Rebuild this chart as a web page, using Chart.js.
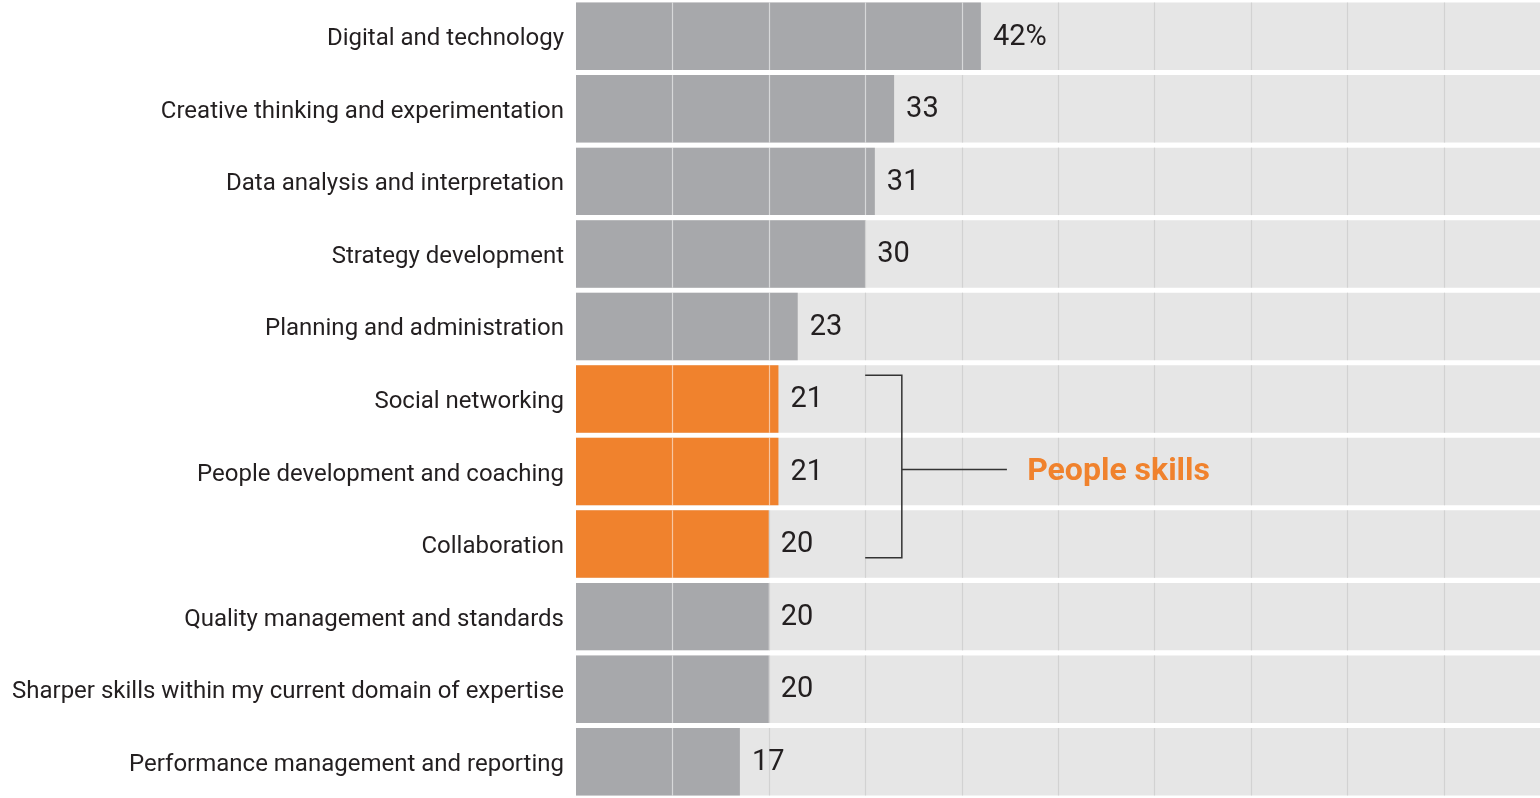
<!DOCTYPE html>
<html>
<head>
<meta charset="utf-8">
<script src="https://cdn.jsdelivr.net/npm/chart.js@4"></script>
<style>
  html,body{margin:0;padding:0;background:#fff;}
  #wrap{width:1540px;height:798px;position:relative;}
</style>
</head>
<body>
<div id="wrap"><canvas id="skills-chart"></canvas></div>
<script>
/* Skills wanted — horizontal bar chart */
const categories=['Digital and technology','Creative thinking and experimentation','Data analysis and interpretation','Strategy development','Planning and administration','Social networking','People development and coaching','Collaboration','Quality management and standards','Sharper skills within my current domain of expertise','Performance management and reporting'];
const values=[42,33,31,30,23,21,21,20,20,20,17];
const peopleSkills=['Social networking','People development and coaching','Collaboration'];
const fullScale=[100,100,100,100,100,100,100,100,100,100,100];
const gridTicks=[10,20,30,40,50,60,70,80,90];
const groupLabel='People skills';

(function(){
  const GREY='#a7a8ab',ORANGE='#f0822d',TRACK='#e6e6e6',INK='#231f20';

  const overlay={
    id:'overlay',
    afterDatasetsDraw(chart){
      const ctx=chart.ctx,x=chart.scales.x;
      const bars=chart.getDatasetMeta(0).data;
      ctx.save();
      // grid lines, clipped to each row
      bars.forEach((b,i)=>{
        const top=b.y-b.height/2,bot=b.y+b.height/2;
        gridTicks.forEach(g=>{
          const px=Math.round(x.getPixelForValue(g))+0.5;
          ctx.strokeStyle=g<values[i]?'rgba(255,255,255,0.55)':'#d2d2d2';
          ctx.lineWidth=1.2;
          ctx.beginPath();ctx.moveTo(px,top);ctx.lineTo(px,bot);ctx.stroke();
        });
      });
      // value labels
      ctx.fillStyle=INK;ctx.font='29px Roboto';ctx.textBaseline='middle';ctx.textAlign='left';
      bars.forEach((b,i)=>{
        ctx.fillText(i===0?values[i]+'%':String(values[i]),b.x+12,b.y+1);
      });
      // bracket for people skills
      const idx=peopleSkills.map(c=>categories.indexOf(c));
      const first=bars[idx[0]],last=bars[idx[idx.length-1]],mid=bars[idx[1]];
      const x0=x.getPixelForValue(30),x1=x.getPixelForValue(33.8),x2=x.getPixelForValue(44.7);
      const yT=first.y-first.height/2+10,yB=last.y+last.height/2-20,yM=mid.y-2;
      ctx.strokeStyle='#333';ctx.lineWidth=1.5;
      ctx.beginPath();
      ctx.moveTo(x0,yT);ctx.lineTo(x1,yT);ctx.lineTo(x1,yB);ctx.lineTo(x0,yB);
      ctx.moveTo(x1,yM);ctx.lineTo(x2,yM);
      ctx.stroke();
      ctx.fillStyle=ORANGE;ctx.font='bold 32px Roboto';
      ctx.fillText(groupLabel,x.getPixelForValue(46.8),yM+2);
      ctx.restore();
    }
  };

  function init(){
    const el=document.getElementById('skills-chart');
    new Chart(el,{type:'bar',
      data:{labels:categories,datasets:[
        {data:values,backgroundColor:categories.map(c=>peopleSkills.includes(c)?ORANGE:GREY),order:0,grouped:false,
          categoryPercentage:1,barPercentage:0.93,borderWidth:0},
        {data:fullScale,backgroundColor:TRACK,order:1,grouped:false,
          categoryPercentage:1,barPercentage:0.93,borderWidth:0}
      ]},
      options:{indexAxis:'y',responsive:true,maintainAspectRatio:false,animation:false,
        layout:{padding:0},
        scales:{
          x:{min:0,max:100,display:false},
          y:{grid:{display:false,drawTicks:false},border:{display:false},
            ticks:{color:INK,font:{family:'Roboto',size:24},padding:12,labelOffset:3},
            afterFit(s){s.width=576;s.paddingTop=0;s.paddingBottom=0;}}
        },
        plugins:{legend:{display:false},tooltip:{enabled:false}}},
      plugins:[overlay]});
  }
  init();
})();
</script>
</body>
</html>
